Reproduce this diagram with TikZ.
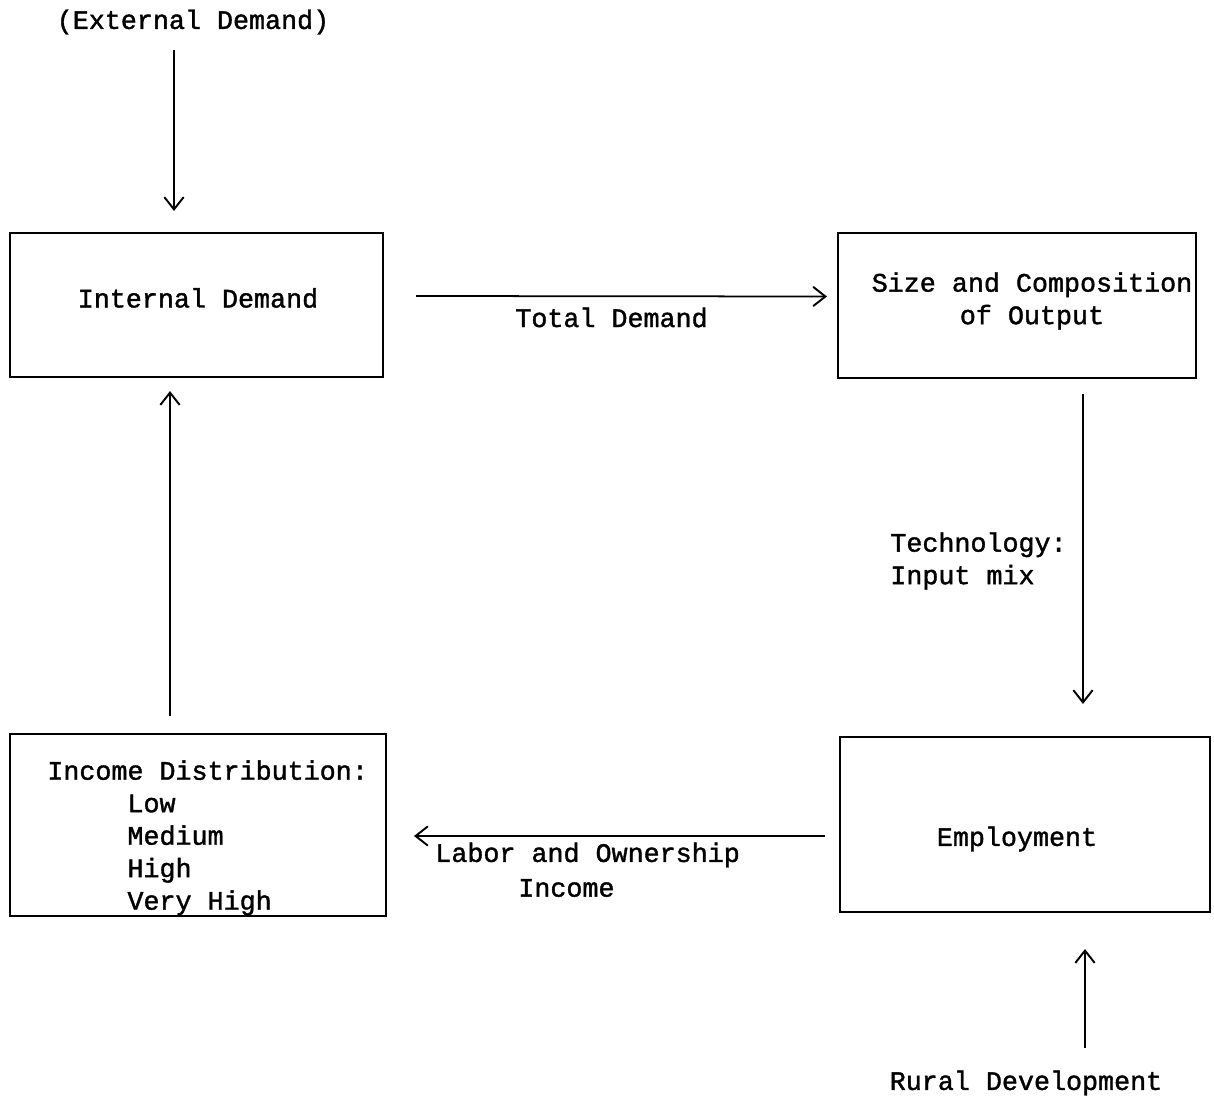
\documentclass[tikz,border=0pt]{standalone}
\usepackage{fontspec}
\newfontfamily\tw[BoldFont=Liberation Mono, BoldFeatures={FakeBold=1.4}]{Liberation Mono}
\usetikzlibrary{arrows.meta,calc}
\begin{document}
\begin{tikzpicture}[x=0.02cm,y=-0.02cm,
  every node/.style={font=\tw\bfseries\fontsize{15.2}{18.5}\selectfont, inner sep=0pt},
  box/.style={draw, line width=1.2pt},
  arr/.style={line width=1pt, -{Straight Barb[length=7pt,width=11pt,line width=1.1pt]}}]
\useasboundingbox (0,0) rectangle (1214,1102);
% boxes
\node[box, minimum width=7.46cm, minimum height=2.88cm] (int) at (196.5,305) {};
\node (intt) at (198,298) {Internal Demand};
\node[box, minimum width=7.16cm, minimum height=2.9cm] (size) at (1017,305.5) {};
\node[align=center] (sizet) at (1032,301) {Size and Composition\\of Output};
\node[box, minimum width=7.52cm, minimum height=3.64cm] (inc) at (198,825) {};
\node[align=left, anchor=north west] (inct) at (47,760) {Income Distribution:\\\hspace*{5\fontcharwd\font`x}Low\\\hspace*{5\fontcharwd\font`x}Medium\\\hspace*{5\fontcharwd\font`x}High\\\hspace*{5\fontcharwd\font`x}Very High};
\node[box, minimum width=7.4cm, minimum height=3.5cm] (emp) at (1025,824.5) {};
\node (empt) at (1017,839) {Employment};
% free texts
\node (ext) at (193,22) {(External Demand)};
\node (rur) at (1026,1083) {Rural Development};
% connectors
\draw[arr] ($(int.east)+(32,-9)$) -- node[below=6pt, xshift=-10*0.02cm] (td) {Total Demand} ($(size.west)+(-10,-9)$);
\draw[arr] ($(size.south)+(66,15)$) -- ($(emp.north)+(58,-32)$);
\node[align=left, anchor=west] (tech) at (890,561) {Technology:\\Input mix};
\draw[arr] ($(emp.west)+(-14,11.5)$) -- ($(inc.east)+(27,11)$);
\node[anchor=west] (lab1) at (435,855) {Labor and Ownership};
\node[anchor=west] (lab2) at (518,888) {Income};
\draw[arr] ($(inc.north)+(-28,-17)$) -- ($(int.south)+(-26.5,13)$);
\draw[arr] (174,50) -- ($(int.north)+(-22.5,-21)$);
\draw[arr] ($(emp.south)+(60,135)$) -- ($(emp.south)+(60,36)$);
\end{tikzpicture}
\end{document}
